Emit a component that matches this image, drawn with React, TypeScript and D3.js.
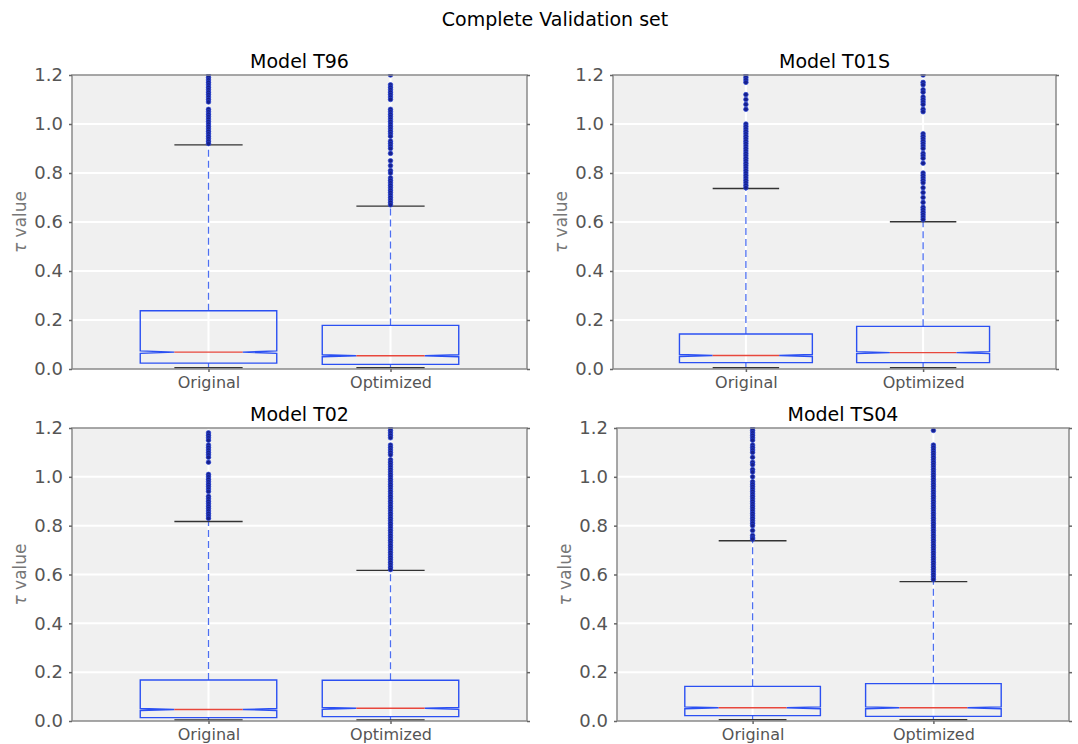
import React, { useEffect, useRef } from 'react';
import * as d3 from 'd3';

const panelTitles = ["Model T96", "Model T01S", "Model T02", "Model TS04"];
const categories = ["Original", "Optimized"];
const yTicks = [0, 0.2, 0.4, 0.6, 0.8, 1.0, 1.2];

// box stats per panel, [Original, Optimized]
const whiskerLow = [[0.005, 0.005], [0.005, 0.005], [0.004, 0.004], [0.005, 0.005]];
const q1 = [[0.024, 0.019], [0.026, 0.026], [0.014, 0.018], [0.022, 0.019]];
const medians = [[0.069, 0.054], [0.055, 0.067], [0.047, 0.052], [0.054, 0.054]];
const q3 = [[0.238, 0.178], [0.143, 0.174], [0.168, 0.167], [0.142, 0.153]];
const whiskerHigh = [[0.915, 0.665], [0.737, 0.601], [0.817, 0.617], [0.738, 0.571]];
const notchHalf = [[0.005, 0.004], [0.004, 0.004], [0.004, 0.004], [0.004, 0.004]];

const fliersT96 = [
  [1.2, 1.19, 1.18, 1.17, 1.16, 1.15, 1.14, 1.13, 1.12, 1.11, 1.1, 1.09, 1.06, 1.05, 1.04, 1.03, 1.02, 1.01, 1.0, 0.99, 0.98, 0.97, 0.96, 0.95, 0.94, 0.93, 0.92],
  [1.2, 1.16, 1.15, 1.14, 1.13, 1.12, 1.11, 1.1, 1.06, 1.05, 1.04, 1.03, 1.02, 1.01, 1.0, 0.99, 0.98, 0.97, 0.96, 0.95, 0.93, 0.92, 0.91, 0.9, 0.88, 0.85, 0.83, 0.81, 0.8, 0.78, 0.77, 0.76, 0.75, 0.74, 0.73, 0.72, 0.71, 0.7, 0.69, 0.68, 0.67],
];
const fliersT01S = [
  [1.2, 1.19, 1.18, 1.17, 1.12, 1.1, 1.08, 1.06, 1.0, 0.99, 0.98, 0.97, 0.96, 0.95, 0.94, 0.93, 0.92, 0.91, 0.9, 0.89, 0.88, 0.87, 0.86, 0.85, 0.84, 0.83, 0.82, 0.81, 0.8, 0.79, 0.78, 0.77, 0.76, 0.75, 0.74],
  [1.2, 1.17, 1.16, 1.14, 1.13, 1.11, 1.1, 1.09, 1.08, 1.06, 1.05, 0.96, 0.95, 0.94, 0.93, 0.92, 0.91, 0.9, 0.88, 0.87, 0.86, 0.84, 0.8, 0.79, 0.78, 0.77, 0.76, 0.74, 0.72, 0.7, 0.68, 0.66, 0.65, 0.64, 0.63, 0.62, 0.61],
];
const fliersT02 = [
  [1.18, 1.17, 1.16, 1.15, 1.13, 1.12, 1.11, 1.1, 1.09, 1.08, 1.06, 1.01, 1.0, 0.99, 0.98, 0.97, 0.96, 0.95, 0.94, 0.92, 0.91, 0.9, 0.89, 0.88, 0.87, 0.86, 0.85, 0.84, 0.83],
  [1.2, 1.19, 1.18, 1.17, 1.16, 1.13, 1.12, 1.11, 1.1, 1.09, 1.07, 1.06, 1.05, 1.04, 1.03, 1.02, 1.01, 1.0, 0.99, 0.98, 0.97, 0.96, 0.95, 0.94, 0.93, 0.92, 0.91, 0.9, 0.89, 0.88, 0.87, 0.86, 0.85, 0.84, 0.83, 0.82, 0.81, 0.8, 0.79, 0.78, 0.77, 0.76, 0.75, 0.74, 0.73, 0.72, 0.71, 0.7, 0.69, 0.68, 0.67, 0.66, 0.65, 0.64, 0.63, 0.62],
];
const fliersTS04 = [
  [1.2, 1.19, 1.18, 1.17, 1.16, 1.15, 1.13, 1.12, 1.11, 1.1, 1.08, 1.06, 1.05, 1.03, 1.02, 1.0, 0.98, 0.97, 0.96, 0.95, 0.94, 0.93, 0.92, 0.91, 0.9, 0.89, 0.88, 0.87, 0.86, 0.85, 0.84, 0.83, 0.82, 0.81, 0.8, 0.78, 0.76, 0.75, 0.745],
  [1.19, 1.13, 1.12, 1.11, 1.1, 1.09, 1.08, 1.07, 1.06, 1.05, 1.04, 1.03, 1.02, 1.01, 1.0, 0.99, 0.98, 0.97, 0.96, 0.95, 0.94, 0.93, 0.92, 0.91, 0.9, 0.89, 0.88, 0.87, 0.86, 0.85, 0.84, 0.83, 0.82, 0.81, 0.8, 0.79, 0.78, 0.77, 0.76, 0.75, 0.74, 0.73, 0.72, 0.71, 0.7, 0.69, 0.68, 0.67, 0.66, 0.65, 0.64, 0.63, 0.62, 0.61, 0.6, 0.59, 0.58],
];
const fliers = [fliersT96, fliersT01S, fliersT02, fliersTS04];

// plot areas (page pixels)
const frames = [
  { x: 72, y: 75, w: 455, h: 294 },
  { x: 613, y: 75, w: 443, h: 294 },
  { x: 72, y: 428, w: 455, h: 293 },
  { x: 617, y: 428, w: 452, h: 293 },
];

const FONT = '"DejaVu Sans", sans-serif';

const App = () => {
  const ref = useRef<SVGSVGElement>(null);

  useEffect(() => {
    const svg = d3.select(ref.current);
    svg.selectAll('*').remove();

    svg.append('text')
      .attr('x', 555).attr('y', 26)
      .attr('text-anchor', 'middle')
      .style('font-family', FONT).style('font-size', '19px')
      .text('Complete Validation set');

    frames.forEach((f, i) => {
      const g = svg.append('g').attr('transform', `translate(${f.x},${f.y})`);
      const x = d3.scaleLinear().domain([0.25, 2.75]).range([0, f.w]);
      const y = d3.scaleLinear().domain([0, 1.2]).range([f.h, 0]);

      g.append('rect').attr('width', f.w).attr('height', f.h).attr('fill', '#f0f0f0');

      g.selectAll('.hgrid').data(yTicks.slice(1, -1)).enter().append('line')
        .attr('x1', 0).attr('x2', f.w)
        .attr('y1', d => y(d)).attr('y2', d => y(d))
        .attr('stroke', '#fff').attr('stroke-width', 2);
      g.selectAll('.vgrid').data([1, 2]).enter().append('line')
        .attr('x1', d => x(d)).attr('x2', d => x(d))
        .attr('y1', 0).attr('y2', f.h)
        .attr('stroke', '#fff').attr('stroke-width', 2);

      const clipId = `clip${i}`;
      g.append('clipPath').attr('id', clipId).append('rect')
        .attr('x', -1).attr('y', -1).attr('width', f.w + 2).attr('height', f.h + 2);
      const inner = g.append('g').attr('clip-path', `url(#${clipId})`);

      categories.forEach((_, j) => {
        const cx = x(j + 1);
        const hb = x(0.375) - x(0); // half box width
        const hc = hb / 2; // notch / cap half width
        const lo = q1[i][j], hi = q3[i][j], med = medians[i][j];
        const nl = med - notchHalf[i][j], nh = med + notchHalf[i][j];

        inner.append('line')
          .attr('x1', cx).attr('x2', cx)
          .attr('y1', y(hi)).attr('y2', y(whiskerHigh[i][j]))
          .attr('stroke', '#4d6ff0').attr('stroke-width', 1.3)
          .attr('stroke-dasharray', '7,4');
        inner.append('line')
          .attr('x1', cx).attr('x2', cx)
          .attr('y1', y(lo)).attr('y2', y(whiskerLow[i][j]))
          .attr('stroke', '#4d6ff0').attr('stroke-width', 1.3)
          .attr('stroke-dasharray', '7,4');

        const pts: [number, number][] = [
          [cx - hb, y(lo)], [cx + hb, y(lo)], [cx + hb, y(nl)], [cx + hc, y(med)],
          [cx + hb, y(nh)], [cx + hb, y(hi)], [cx - hb, y(hi)], [cx - hb, y(nh)],
          [cx - hc, y(med)], [cx - hb, y(nl)],
        ];
        inner.append('path')
          .attr('d', d3.line()(pts) + 'Z')
          .attr('fill', 'none').attr('stroke', '#2b50f2').attr('stroke-width', 1.4);

        inner.append('line')
          .attr('x1', cx - hc).attr('x2', cx + hc)
          .attr('y1', y(med)).attr('y2', y(med))
          .attr('stroke', '#e8473c').attr('stroke-width', 1.4);

        [whiskerHigh[i][j], whiskerLow[i][j]].forEach(v => {
          inner.append('line')
            .attr('x1', cx - hc).attr('x2', cx + hc)
            .attr('y1', y(v)).attr('y2', y(v))
            .attr('stroke', '#333').attr('stroke-width', 1.4);
        });

        inner.selectAll(`.fl${j}`).data(fliers[i][j]).enter().append('circle')
          .attr('cx', cx).attr('cy', d => y(d)).attr('r', 2.3)
          .attr('fill', '#17208c').attr('stroke', '#2a45d8').attr('stroke-width', 0.7);
      });

      g.append('rect').attr('width', f.w).attr('height', f.h)
        .attr('fill', 'none').attr('stroke', '#8a8a8a').attr('stroke-width', 1.5);

      const yAxis = g.append('g').call(
        d3.axisLeft(y).tickValues(yTicks).tickFormat(d3.format('.1f')).tickSize(3).tickPadding(6)
      );
      const yAxisR = g.append('g').attr('transform', `translate(${f.w},0)`).call(
        d3.axisRight(y).tickValues(yTicks).tickFormat(() => '').tickSize(3)
      );
      const xAxis = g.append('g').attr('transform', `translate(0,${f.h})`).call(
        d3.axisBottom(x).tickValues([1, 2]).tickFormat((d) => categories[(d as number) - 1]).tickSize(3).tickPadding(5)
      );
      [yAxis, yAxisR, xAxis].forEach(a => {
        a.select('.domain').remove();
        a.selectAll('line').attr('stroke', '#666').attr('stroke-width', 1.5);
        a.selectAll('text').attr('fill', '#555').style('font-family', FONT);
      });
      yAxis.selectAll('text').style('font-size', '18px');
      xAxis.selectAll('text').style('font-size', '16px');

      g.append('text')
        .attr('transform', `translate(-46,${f.h / 2}) rotate(-90)`)
        .attr('text-anchor', 'middle')
        .attr('fill', '#777')
        .style('font-family', FONT).style('font-size', '17px')
        .call(t => {
          t.append('tspan').style('font-style', 'italic').text('τ');
          t.append('tspan').text(' value');
        });

      g.append('text')
        .attr('x', f.w / 2).attr('y', -7)
        .attr('text-anchor', 'middle')
        .style('font-family', FONT).style('font-size', '19px')
        .text(panelTitles[i]);
    });
  }, []);

  return (
    <svg ref={ref} width={1078} height={744}
      style={{ position: 'absolute', left: 0, top: 0, background: '#fff' }} />
  );
};

export default App;
